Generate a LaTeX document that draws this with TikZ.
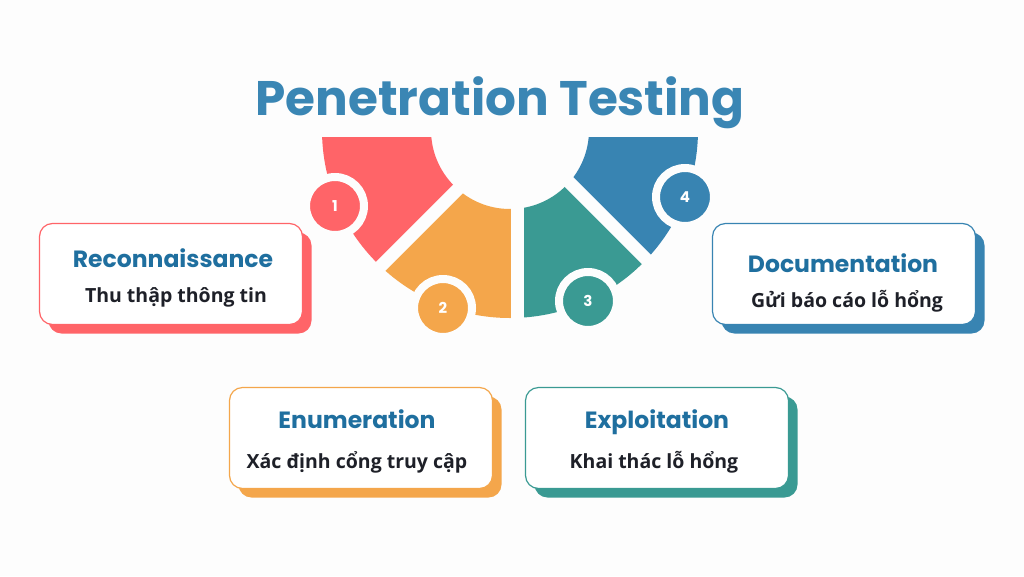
\documentclass[tikz,border=0pt]{standalone}
\usepackage{fontspec}
\setmainfont{Open Sans}
\newfontfamily\headfont{Poppins}

\definecolor{bgcol}{HTML}{FDFDFD}
\definecolor{seg1}{HTML}{FF6468}
\definecolor{seg2}{HTML}{F4A64B}
\definecolor{seg3}{HTML}{3A9A93}
\definecolor{seg4}{HTML}{3884B2}
\definecolor{titleblue}{HTML}{3A86B4}
\definecolor{headblue}{HTML}{1F6F9F}
\definecolor{darktext}{HTML}{1E2028}

\newcommand{\rin}{79}
\newcommand{\rout}{188}

\tikzset{
  card/.style = {draw=#1, line width=1.2pt, fill=white, rounded corners=13pt,
    minimum width=263pt, minimum height=101pt, inner sep=0pt},
  cardshadow/.style = {fill=#1, rounded corners=13pt,
    minimum width=263pt, minimum height=101pt, inner sep=0pt},
  badge/.style = {circle, fill=#1, draw=bgcol, line width=8pt, minimum size=58pt,
    inner sep=0pt, text=white, font=\headfont\bfseries\fontsize{15}{15}\selectfont},
  head/.style = {text=headblue, font=\headfont\bfseries\fontsize{23.5}{24}\selectfont, anchor=base},
  sub/.style = {text=darktext, font=\bfseries\fontsize{19.5}{20}\selectfont, anchor=base},
  gap/.style = {draw=bgcol, line width=13pt}
}

\begin{document}
\begin{tikzpicture}[x=1pt, y=-1pt]

\fill[bgcol] (0,0) rectangle (1024,576);
\useasboundingbox (0,0) rectangle (1024,576);

\node[text=titleblue, font=\headfont\bfseries\fontsize{48.5}{50}\selectfont, anchor=base] (title) at (500,115) {Penetration Testing};

\coordinate (c) at (510,130);

\begin{scope}
\clip (510,137) -- (200,137) -- (200,447) -- cycle;
\fill[seg1, even odd rule] (c) circle (\rout) (c) circle (\rin);
\end{scope}
\begin{scope}
\clip (510,137) -- (517.5,137) -- (517.5,400) -- (247,400) -- cycle;
\fill[seg2, even odd rule] (c) circle (\rout) (c) circle (\rin);
\end{scope}
\begin{scope}
\clip (517.5,137) -- (524,137) -- (787,400) -- (517.5,400) -- cycle;
\fill[seg3, even odd rule] (c) circle (\rout) (c) circle (\rin);
\end{scope}
\begin{scope}
\clip (524,137) -- (800,137) -- (800,413) -- cycle;
\fill[seg4, even odd rule] (c) circle (\rout) (c) circle (\rin);
\end{scope}

\draw[gap] (510,137) -- (310,337);
\draw[gap] (517.5,137) -- (517.5,340);
\draw[gap] (524,137) -- (724,337);

\node[badge=seg1] (n1) at (335,206) {1};
\node[badge=seg2] (n2) at (443,308) {2};
\node[badge=seg3] (n3) at (588,301) {3};
\node[badge=seg4] (n4) at (685,197) {4};

\node[cardshadow=seg1] (d1) at (180,283) {};
\node[cardshadow=seg2] (d2) at (370,447) {};
\node[cardshadow=seg3] (d3) at (666,447) {};
\node[cardshadow=seg4] (d4) at (853,283) {};

\node[card=seg1] (b1) at (171,274) {};
\node[card=seg2] (b2) at (361,438) {};
\node[card=seg3] (b3) at (657,438) {};
\node[card=seg4] (b4) at (844,274) {};

\node[head] (h1) at (173,267) {Reconnaissance};
\node[sub] (s1) at (176,302) {Thu thập thông tin};
\node[head] (h2) at (357,428) {Enumeration};
\node[sub] (s2) at (357,468) {Xác định cổng truy cập};
\node[head] (h3) at (657,428) {Exploitation};
\node[sub] (s3) at (654,468) {Khai thác lỗ hổng};
\node[head] (h4) at (843,272) {Documentation};
\node[sub] (s4) at (847,307) {Gửi báo cáo lỗ hổng};

\end{tikzpicture}
\end{document}
